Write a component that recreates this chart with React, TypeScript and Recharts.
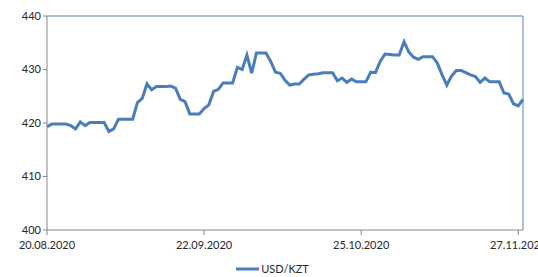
import React from "react"
import {
  LineChart,
  Line,
  XAxis,
  YAxis,
  Legend,
  ReferenceLine,
} from "recharts"

// USD/KZT daily rate, 20.08.2020 .. 28.11.2020 (one value per day)
const rates = [
  419.3, 419.8, 419.8, 419.8, 419.8, 419.5, 418.9, 420.2, 419.5, 420.1,
  420.1, 420.1, 420.1, 418.4, 418.9, 420.7, 420.7, 420.7, 420.7, 423.8,
  424.6, 427.3, 426.2, 426.8, 426.8, 426.8, 426.9, 426.5, 424.4, 424.0,
  421.7, 421.7, 421.7, 422.7, 423.4, 425.9, 426.3, 427.5, 427.5, 427.5,
  430.4, 430.0, 432.7, 429.3, 433.1, 433.1, 433.1, 431.5, 429.5, 429.3,
  428.0, 427.1, 427.3, 427.3, 428.2, 429.0, 429.1, 429.2, 429.4, 429.4,
  429.4, 427.9, 428.4, 427.6, 428.2, 427.7, 427.7, 427.7, 429.5, 429.4,
  431.5, 432.9, 432.8, 432.7, 432.7, 435.2, 433.3, 432.3, 431.9, 432.4,
  432.4, 432.4, 431.2, 429.0, 427.1, 428.8, 429.8, 429.8, 429.4, 429.0,
  428.7, 427.6, 428.4, 427.7, 427.7, 427.7, 425.6, 425.4, 423.6, 423.2,
  424.4,
]

const tickDays = [0, 33, 66, 99]
const tickLabels = ["20.08.2020", "22.09.2020", "25.10.2020", "27.11.2020"]
const yTicks = [400, 410, 420, 430, 440]
const seriesName = "USD/KZT"

const data = rates.map((rate, day) => ({ day, rate }))

const font = "Lato, 'Open Sans', sans-serif"
const axisColor = "#868686"
const lineColor = "#4a7ebb"
const textColor = "#262626"

// legend: thick line sample + label, like the original
function LegendContent() {
  return (
    <div
      style={{
        display: "flex",
        justifyContent: "center",
        alignItems: "center",
        fontFamily: font,
        fontSize: 11,
        color: textColor,
        paddingLeft: 22,
      }}
    >
      <svg width={23} height={4}>
        <line x1={0} y1={2} x2={23} y2={2} stroke={lineColor} strokeWidth={3} />
      </svg>
      <span style={{ marginLeft: 2 }}>{seriesName}</span>
    </div>
  )
}

export default function App() {
  return (
    <div style={{ width: 538, height: 277, background: "#fff" }}>
      <style>{`body{margin:0}`}</style>
      <LineChart
        width={538}
        height={277}
        data={data}
        margin={{ top: 16, right: 15, left: 0, bottom: 11 }}
      >
        <ReferenceLine y={440} stroke="#4f81bd" strokeWidth={1} />
        <ReferenceLine x={100} stroke="#4f81bd" strokeWidth={1} />
        <XAxis
          dataKey="day"
          type="number"
          domain={[0, 100]}
          ticks={tickDays}
          interval={0}
          tickFormatter={(v: number) => tickLabels[tickDays.indexOf(v)] ?? ""}
          height={23}
          stroke={axisColor}
          tickSize={5}
          tickMargin={6}
          tick={{ fontSize: 11, fill: textColor, fontFamily: font }}
        />
        <YAxis
          domain={[400, 440]}
          ticks={yTicks}
          width={47}
          stroke={axisColor}
          tickSize={4}
          tick={{ fontSize: 11, fill: textColor, fontFamily: font }}
        />
        <Legend
          verticalAlign="bottom"
          content={<LegendContent />}
          wrapperStyle={{ top: 262 }}
        />
        <Line
          type="linear"
          dataKey="rate"
          name={seriesName}
          stroke={lineColor}
          strokeWidth={3}
          dot={false}
          isAnimationActive={false}
        />
      </LineChart>
    </div>
  )
}
